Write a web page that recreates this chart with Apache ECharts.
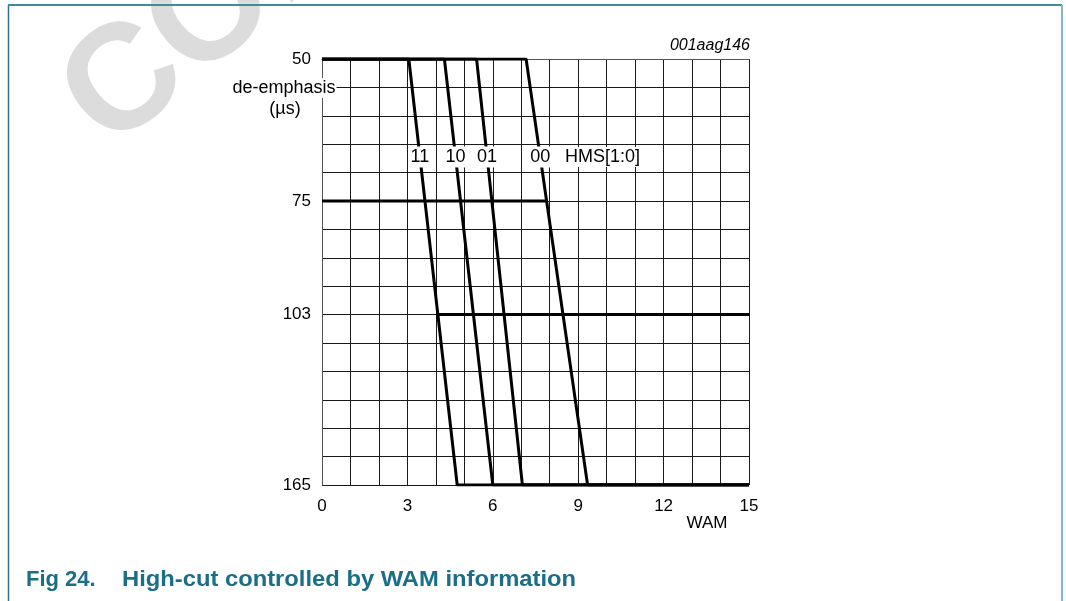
<!DOCTYPE html>
<html><head><meta charset="utf-8">
<script src="https://cdn.jsdelivr.net/npm/echarts@6/dist/echarts.min.js"></script>
<style>html,body{margin:0;padding:0;background:#fff}#c{width:1066px;height:601px}</style>
</head><body><div id="c"></div>
<script>
// ---- data ----
const hmsCodes = ['11', '10', '01', '00'];
const wamAt50us = [3.05, 4.3, 5.43, 7.17];   // WAM where each curve leaves 50 µs
const wamAt165us = [4.75, 6.0, 7.04, 9.33];  // WAM where each curve reaches 165 µs
const line75 = [[0, 75], [7.92, 75]];
const line103 = [[4.05, 103], [15, 103]];
const deEmphasisLevels = [50, 75, 103, 165];  // y tick labels (µs)
const levelSlots = [0, 5, 9, 15];             // grid rows of those ticks (non-linear scale)
const xTickLabels = [0, 3, 6, 9, 12, 15];

const FONT = '"Liberation Sans", Arial, sans-serif';
const toSlot = us => levelSlots[deEmphasisLevels.indexOf(us)];
const mapPts = pts => pts.map(p => [p[0], toSlot(p[1])]);
const LABEL_SLOT = 3.45;

const lineStyle = { color: '#000', width: 3 };
const series = hmsCodes.map((code, i) => {
  const s = wamAt50us[i], e = wamAt165us[i];
  const lu = s + (e - s) * LABEL_SLOT / 15;
  return {
    type: 'line', name: code, symbol: 'none', animation: false, z: 3,
    lineStyle, data: mapPts([[0, 50], [s, 50], [e, 165], [15, 165]]),
    markPoint: {
      symbol: 'rect', symbolSize: 1, itemStyle: { color: 'rgba(0,0,0,0)' }, animation: false,
      label: { show: true, position: 'inside', formatter: code, color: '#000', fontFamily: FONT, fontSize: 18,
        backgroundColor: '#fff', padding: [2, 1, 1, 1] },
      data: [{ coord: [lu, LABEL_SLOT] }]
    }
  };
});
series.push({ type: 'line', symbol: 'none', animation: false, z: 3, lineStyle, data: mapPts(line75) });
series.push({ type: 'line', symbol: 'none', animation: false, z: 3, lineStyle, data: mapPts(line103) });

const chart = echarts.init(document.getElementById('c'), null, { renderer: 'canvas' });
chart.setOption({
  animation: false,
  backgroundColor: '#fff',
  grid: { left: 322, top: 59, right: 317, bottom: 116, containLabel: false },
  xAxis: {
    type: 'value', min: 0, max: 15, interval: 1,
    axisLine: { show: true, lineStyle: { color: '#555', width: 1 } },
    axisTick: { show: false },
    axisLabel: { color: '#000', fontFamily: FONT, fontSize: 17, margin: 13,
      formatter: v => xTickLabels.includes(v) ? String(v) : '' },
    splitLine: { show: true, lineStyle: { color: '#1a1a1a', width: 1 } }
  },
  yAxis: {
    type: 'value', min: 0, max: 15, interval: 1, inverse: true,
    axisLine: { show: true, lineStyle: { color: '#555', width: 1 } },
    axisTick: { show: false },
    axisLabel: { color: '#000', fontFamily: FONT, fontSize: 17, margin: 11,
      formatter: v => { const k = levelSlots.indexOf(v); return k >= 0 ? String(deEmphasisLevels[k]) : ''; } },
    splitLine: { show: true, lineStyle: { color: '#1a1a1a', width: 1 } }
  },
  series,
  graphic: [
    { type: 'text', z: 0, x: 84, y: 120, rotation: 0.69,
      style: { text: 'CONFIDENTIAL', fontFamily: FONT, fontWeight: 'bold', fontSize: 150, fill: '#dcdcdc', textAlign: 'left', textVerticalAlign: 'middle' } },
    { type: 'line', z: 10, shape: { x1: 8.5, y1: 5, x2: 8.5, y2: 601 }, style: { stroke: '#2b7389', lineWidth: 1.5 } },
    { type: 'line', z: 10, shape: { x1: 8, y1: 5, x2: 1062, y2: 5 }, style: { stroke: '#3d8c9c', lineWidth: 2 } },
    { type: 'line', z: 10, shape: { x1: 1062, y1: 5, x2: 1062, y2: 601 }, style: { stroke: '#7fb9c7', lineWidth: 2 } },
    { type: 'text', z: 50, x: 284, y: 88,
      style: { text: 'de-emphasis', fontFamily: FONT, fontSize: 18, fill: '#000', textAlign: 'center', textVerticalAlign: 'middle', backgroundColor: '#fff', padding: [1, 1] } },
    { type: 'text', z: 50, x: 285, y: 109,
      style: { text: '(µs)', fontFamily: FONT, fontSize: 18, fill: '#000', textAlign: 'center', textVerticalAlign: 'middle' } },
    { type: 'text', z: 50, x: 750, y: 46,
      style: { text: '001aag146', fontFamily: FONT, fontStyle: 'italic', fontSize: 16, fill: '#000', textAlign: 'right', textVerticalAlign: 'middle' } },
    { type: 'text', z: 50, x: 707, y: 523,
      style: { text: 'WAM', fontFamily: FONT, fontSize: 17, fill: '#000', textAlign: 'center', textVerticalAlign: 'middle' } },
    { type: 'text', z: 50, x: 564, y: 157,
      style: { text: 'HMS[1:0]', fontFamily: FONT, fontSize: 18, fill: '#000', textAlign: 'left', textVerticalAlign: 'middle', backgroundColor: '#fff', padding: [1, 1] } },
    { type: 'text', z: 50, x: 26, y: 580,
      style: { text: 'Fig 24.', fontFamily: FONT, fontWeight: 'bold', fontSize: 22, fill: '#1a6f87', textAlign: 'left', textVerticalAlign: 'middle' } },
    { type: 'text', z: 50, x: 122, y: 580, scaleX: 1.08,
      style: { text: 'High-cut controlled by WAM information', fontFamily: FONT, fontWeight: 'bold', fontSize: 22, fill: '#1a6f87', textAlign: 'left', textVerticalAlign: 'middle' } }
  ]
});
</script>
</body></html>
